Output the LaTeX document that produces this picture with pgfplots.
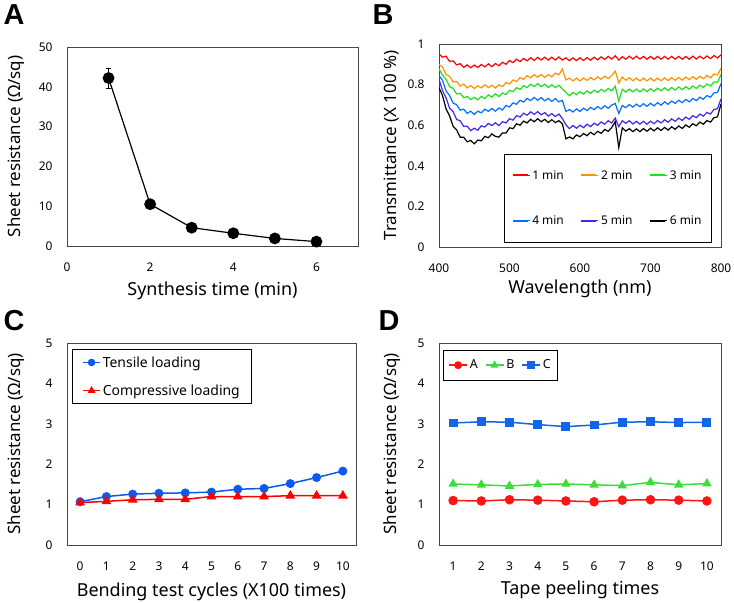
\documentclass[border=0pt]{standalone}
\usepackage{pgfplots}
\usepackage{pgfplotstable}
\pgfplotsset{compat=1.18}
\usepackage{fontspec}
\setmainfont{Noto Sans}
\newfontfamily\letterfont{Liberation Sans}[BoldFont={Liberation Sans Bold}]
\definecolor{axgray}{RGB}{70,70,70}
\definecolor{cR}{RGB}{255,0,0}
\definecolor{cO}{RGB}{255,145,0}
\definecolor{cG}{RGB}{30,225,30}
\definecolor{cB}{RGB}{0,110,255}
\definecolor{cP}{RGB}{75,35,235}
\definecolor{tblue}{RGB}{10,90,240}
\definecolor{dred}{RGB}{255,20,20}
\definecolor{dgreen}{RGB}{60,220,60}
\definecolor{dblue}{RGB}{20,100,230}

\pgfplotstableread{
x R O G B P K
400 .951 .899 .878 .844 .826 .785
405 .935 .886 .846 .821 .770 .746
410 .940 .850 .826 .769 .735 .680
415 .914 .841 .790 .746 .684 .646
420 .917 .813 .781 .709 .667 .594
425 .897 .815 .754 .701 .628 .577
430 .903 .793 .757 .674 .622 .541
435 .885 .802 .736 .679 .594 .541
440 .897 .783 .741 .658 .595 .518
445 .883 .795 .726 .669 .573 .525
450 .896 .781 .737 .653 .585 .508
455 .884 .794 .725 .669 .575 .527
460 .899 .784 .742 .661 .597 .523
465 .887 .799 .731 .679 .591 .545
470 .902 .785 .749 .668 .609 .538
475 .888 .797 .738 .683 .598 .557
480 .904 .783 .755 .669 .612 .545
485 .893 .799 .741 .685 .598 .541
490 .910 .790 .759 .675 .617 .562
495 .900 .810 .751 .697 .611 .561
500 .919 .803 .772 .690 .632 .587
505 .908 .823 .765 .710 .625 .583
510 .925 .815 .785 .703 .647 .607
515 .913 .835 .776 .723 .640 .600
520 .929 .826 .795 .714 .659 .620
525 .917 .844 .785 .732 .649 .611
530 .932 .833 .802 .721 .666 .629
535 .919 .849 .790 .737 .653 .617
540 .934 .836 .805 .723 .667 .632
545 .921 .850 .790 .736 .651 .617
550 .935 .835 .802 .720 .662 .629
555 .921 .849 .786 .732 .645 .613
560 .935 .838 .799 .717 .657 .627
565 .921 .857 .785 .731 .643 .613
570 .936 .848 .797 .715 .655 .622
575 .921 .877 .778 .722 .633 .607
580 .932 .823 .762 .668 .602 .533
585 .918 .832 .745 .677 .583 .542
590 .932 .818 .762 .665 .599 .533
595 .918 .832 .750 .680 .585 .552
600 .932 .818 .765 .668 .600 .543
605 .919 .833 .753 .684 .588 .559
610 .933 .820 .769 .672 .605 .548
615 .920 .835 .757 .688 .593 .565
620 .935 .823 .773 .676 .610 .553
625 .922 .838 .761 .692 .599 .570
630 .937 .826 .777 .680 .616 .560
635 .924 .842 .765 .696 .605 .579
640 .939 .829 .781 .683 .622 .570
645 .926 .845 .769 .699 .611 .589
650 .942 .867 .792 .707 .635 .617
655 .921 .808 .718 .658 .593 .490
660 .937 .837 .777 .697 .622 .587
665 .925 .821 .763 .686 .609 .571
670 .940 .834 .778 .702 .622 .583
675 .926 .819 .764 .689 .606 .568
680 .940 .832 .778 .704 .619 .582
685 .926 .818 .764 .691 .605 .568
690 .939 .832 .779 .706 .619 .583
695 .925 .818 .765 .693 .605 .570
700 .939 .832 .780 .708 .620 .585
705 .925 .818 .767 .695 .607 .572
710 .939 .832 .782 .711 .623 .587
715 .925 .819 .769 .699 .611 .574
720 .939 .833 .784 .715 .627 .589
725 .925 .820 .771 .703 .615 .576
730 .939 .834 .786 .719 .631 .592
735 .925 .821 .773 .707 .619 .580
740 .939 .835 .788 .723 .635 .596
745 .925 .822 .775 .711 .623 .584
750 .939 .837 .790 .727 .640 .601
755 .925 .824 .777 .715 .629 .590
760 .940 .839 .793 .732 .647 .607
765 .926 .826 .781 .721 .637 .597
770 .940 .841 .797 .738 .655 .615
775 .927 .829 .786 .728 .645 .605
780 .941 .845 .803 .746 .663 .623
785 .928 .833 .793 .738 .655 .615
790 .943 .852 .813 .759 .677 .637
795 .931 .848 .811 .761 .681 .641
800 .947 .880 .850 .805 .730 .705
}\spectra

\pgfplotsset{
  every axis/.append style={
    scale only axis, anchor=south west,
    axis line style={draw=axgray, line width=0.9bp},
    major tick length=0pt,
    tick style={draw=none},
    /pgf/number format/assume math mode=true,
    ticklabel style={font=\fontsize{12}{12}\selectfont},
    xlabel style={font=\fontsize{18}{18}\selectfont},
    ylabel style={font=\fontsize{17}{17}\selectfont},
    xticklabel style={anchor=center, yshift=-21bp},
    yticklabel style={anchor=east, xshift=-11bp},
  },
}

\begin{document}
\begin{tikzpicture}
\path[use as bounding box] (0bp,0bp) rectangle (734bp,603bp);

% ---------- A ----------
\begin{axis}[at={(67bp,357bp)}, width=291bp, height=199bp,
  xmin=0, xmax=7, ymin=0, ymax=50,
  xtick={0,2,4,6}, ytick={0,10,20,30,40,50},
  xlabel={Synthesis time (min)}, ylabel={Sheet resistance (Ω/sq)},
  xlabel style={at={(axis description cs:0.5,-0.226)}, anchor=center},
  ylabel style={at={(axis description cs:-0.175,0.5)}, anchor=center},
  clip=false]
\addplot[black, line width=1.2bp, mark=*, mark size=5.3bp,
  error bars/.cd, y dir=both, y explicit,
  error bar style={line width=0.6bp},
  error mark options={rotate=90, mark size=2.5bp, line width=0.6bp}]
  coordinates {(1,42.2) +- (0,2.5) (2,10.5) (3,4.6) (4,3.2) (5,1.9) (6,1.1)};
\end{axis}

% ---------- B ----------
\begin{axis}[at={(439bp,356bp)}, width=282bp, height=203bp,
  xmin=400, xmax=800, ymin=0, ymax=1,
  xtick={400,500,600,700,800}, ytick={0,0.2,0.4,0.6,0.8,1},
  xlabel={Wavelength (nm)}, ylabel={Transmittance (X 100 \%)},
  xlabel style={at={(axis description cs:0.5,-0.207)}, anchor=center},
  ylabel style={at={(axis description cs:-0.167,0.5)}, anchor=center},
  legend columns=3,
  legend image code/.code={\path (0bp,0bp) -- (17bp,0bp);\fill[#1, draw=none] (0bp,-0.9bp) rectangle (15bp,0.9bp);},
  legend style={at={(axis description cs:0.230,0.458)}, anchor=north west,
    draw=black, font=\fontsize{12}{12}\selectfont,
    inner xsep=8bp, inner ysep=14bp, row sep=31bp,
    /tikz/every even column/.append style={column sep=15bp}},
  ]
\addplot[cR, line width=1.2bp] table[x=x, y=R] {\spectra};
\addplot[cO, line width=1.2bp] table[x=x, y=O] {\spectra};
\addplot[cG, line width=1.2bp] table[x=x, y=G] {\spectra};
\addplot[cB, line width=1.2bp] table[x=x, y=B] {\spectra};
\addplot[cP, line width=1.2bp] table[x=x, y=P] {\spectra};
\addplot[black, line width=1.2bp] table[x=x, y=K] {\spectra};
\legend{1 min, 2 min, 3 min, 4 min, 5 min, 6 min}
\end{axis}

% ---------- C ----------
\begin{axis}[at={(67bp,58bp)}, width=289bp, height=202bp,
  xmin=-0.5, xmax=10.5, ymin=0, ymax=5,
  xtick={0,1,...,10}, ytick={0,1,2,3,4,5},
  xlabel={Bending test cycles (X100 times)}, ylabel={Sheet resistance (Ω/sq)},
  xlabel style={at={(axis description cs:0.5,-0.233)}, anchor=center},
  ylabel style={at={(axis description cs:-0.176,0.5)}, anchor=center},
  legend cell align=left,
  legend image code/.code={\draw[mark repeat=2, mark phase=2, #1, mark size=3bp] plot coordinates {(0bp,0bp) (8.5bp,0bp) (17bp,0bp)};},
  legend style={at={(axis description cs:0.017,0.970)}, anchor=north west,
    draw=black, line width=0.8bp, font=\fontsize{14}{14}\selectfont,
    inner xsep=10bp, inner ysep=5bp, row sep=12bp},
  ]
\addplot[tblue, line width=1.5bp, mark=*, mark size=3.7bp]
  coordinates {(0,1.07) (1,1.20) (2,1.26) (3,1.28) (4,1.29) (5,1.31) (6,1.38) (7,1.40) (8,1.52) (9,1.67) (10,1.83)};
\addplot[cR, line width=1.5bp, mark=triangle*, mark size=4.2bp]
  coordinates {(0,1.05) (1,1.08) (2,1.12) (3,1.13) (4,1.13) (5,1.20) (6,1.20) (7,1.20) (8,1.22) (9,1.22) (10,1.22)};
\legend{Tensile loading, Compressive loading}
\end{axis}

% ---------- D ----------
\begin{axis}[at={(439bp,58bp)}, width=282bp, height=202bp,
  xmin=0.5, xmax=10.5, ymin=0, ymax=5,
  xtick={1,2,...,10}, ytick={0,1,2,3,4,5},
  xlabel={Tape peeling times}, ylabel={Sheet resistance (Ω/sq)},
  xlabel style={at={(axis description cs:0.5,-0.223)}, anchor=center},
  ylabel style={at={(axis description cs:-0.167,0.5)}, anchor=center},
  legend columns=3,
  legend image code/.code={\draw[mark repeat=2, mark phase=2, #1, mark size=3.2bp] plot coordinates {(0bp,0bp) (9bp,0bp) (18bp,0bp)};},
  legend style={at={(axis description cs:0.014,0.965)}, anchor=north west,
    draw=black, line width=0.8bp, font=\fontsize{12.5}{12.5}\selectfont,
    inner xsep=5bp, inner ysep=7.5bp,
    /tikz/every even column/.append style={column sep=5bp}},
  ]
\addplot[dred, line width=1.5bp, mark=*, mark size=4bp]
  coordinates {(1,1.10) (2,1.09) (3,1.12) (4,1.11) (5,1.09) (6,1.07) (7,1.11) (8,1.12) (9,1.11) (10,1.09)};
\addplot[dgreen, line width=1.5bp, mark=triangle*, mark size=4bp]
  coordinates {(1,1.51) (2,1.49) (3,1.46) (4,1.50) (5,1.51) (6,1.49) (7,1.47) (8,1.55) (9,1.49) (10,1.52)};
\addplot[dblue, line width=1.5bp, mark=square*, mark size=3.7bp]
  coordinates {(1,3.02) (2,3.05) (3,3.04) (4,2.98) (5,2.93) (6,2.97) (7,3.04) (8,3.05) (9,3.03) (10,3.04)};
\legend{A, B, C}
\end{axis}

% panel letters
\node[font=\letterfont\fontsize{29}{29}\selectfont\bfseries] at (14bp,588bp) {A};
\node[font=\letterfont\fontsize{29}{29}\selectfont\bfseries] at (383bp,588bp) {B};
\node[font=\letterfont\fontsize{29}{29}\selectfont\bfseries] at (14bp,282bp) {C};
\node[font=\letterfont\fontsize{29}{29}\selectfont\bfseries] at (389bp,282bp) {D};
\end{tikzpicture}
\end{document}
